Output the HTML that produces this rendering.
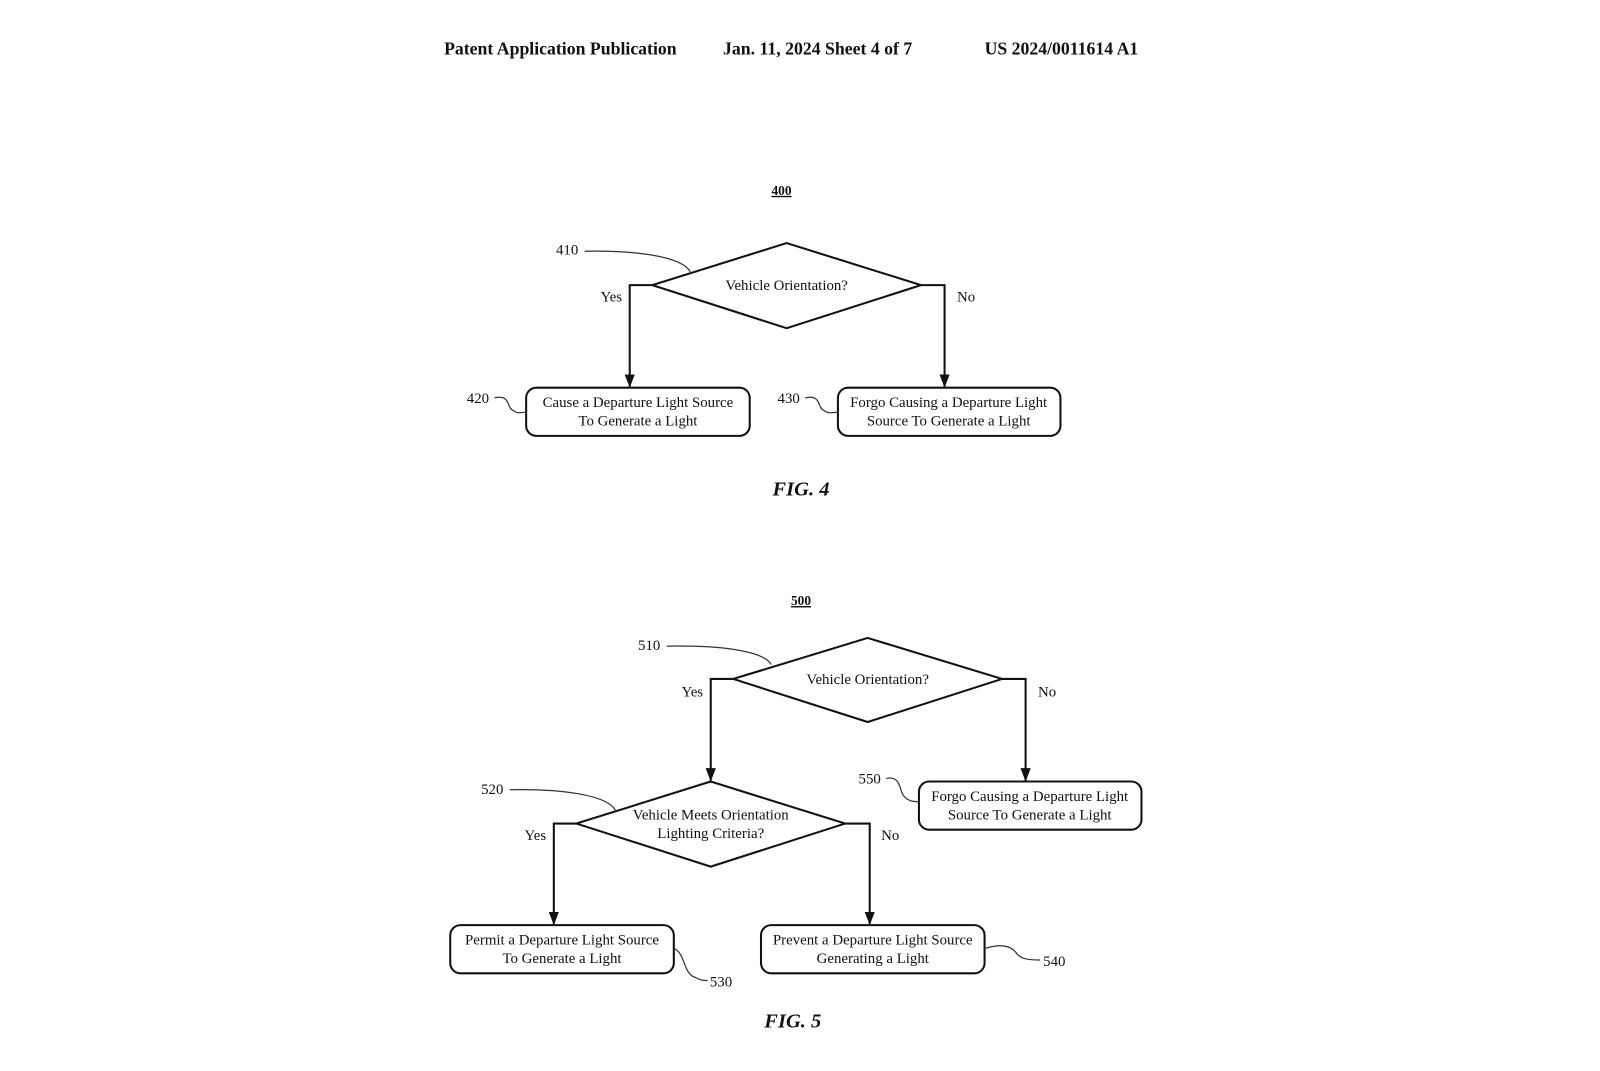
<!DOCTYPE html>
<html><head><style>
body{margin:0;background:#fff}
svg text{font-family:"Liberation Serif",serif;fill:#111}
</style></head><body>
<svg width="1600" height="1066" viewBox="0 0 1600 1066" xmlns="http://www.w3.org/2000/svg">
<defs><marker id="a" markerWidth="13" markerHeight="10" refX="12" refY="5" orient="auto" markerUnits="userSpaceOnUse"><path d="M0,0 L13,5 L0,10 Z" fill="#111"/></marker></defs>
<g transform="scale(1.0256)">
<g font-weight="bold" font-size="17.3">
<text x="433" y="53">Patent Application Publication</text>
<text x="705" y="53">Jan. 11, 2024  Sheet 4 of 7</text>
<text x="960" y="53">US 2024/0011614 A1</text>
</g>
<g stroke="#111" stroke-width="2" fill="none">
<polygon points="767,237 898,278 767,320 636,278"/>
<polyline points="636,278 614,278 614,377" marker-end="url(#a)"/>
<polyline points="898,278 921,278 921,377" marker-end="url(#a)"/>
<rect x="513" y="378" width="218" height="47" rx="10"/>
<rect x="817" y="378" width="217" height="47" rx="10"/>
<polygon points="846,622 977,662 846,704 715,662"/>
<polyline points="715,662 693,662 693,761" marker-end="url(#a)"/>
<polyline points="977,662 1000,662 1000,761" marker-end="url(#a)"/>
<rect x="896" y="762" width="217" height="47" rx="10"/>
<polygon points="693,762 824,803 693,845 562,803"/>
<polyline points="562,803 540,803 540,901" marker-end="url(#a)"/>
<polyline points="824,803 848,803 848,901" marker-end="url(#a)"/>
<rect x="439" y="902" width="218" height="47" rx="10"/>
<rect x="742" y="902" width="218" height="47" rx="10"/>
</g>
<g stroke="#333" stroke-width="1.2" fill="none">
<path d="M570,245 C620,244 665,250 673,265"/>
<path d="M482,388 C498,384 494,398 500,400 C505,404 508,402 513,402"/>
<path d="M785,388 C801,384 797,398 803,400 C808,404 811,402 817,402"/>
<path d="M650,630 C700,629 744,634 752,648"/>
<path d="M497,770 C547,769 592,775 600,790"/>
<path d="M864,759 C880,756 876,772 882,777 C887,782 890,781 896,782"/>
<path d="M657,925 C668,928 666,950 678,953 C683,956 686,956 690,956"/>
<path d="M960,925 C975,920 985,922 990,928 C995,936 1005,936 1014,936"/>
</g>
<g font-size="14.5" text-anchor="middle">
<text x="767" y="283">Vehicle Orientation?</text>
<text x="622" y="397">Cause a Departure Light Source</text>
<text x="622" y="415">To Generate a Light</text>
<text x="925" y="397">Forgo Causing a Departure Light</text>
<text x="925" y="415">Source To Generate a Light</text>
<text x="846" y="667">Vehicle Orientation?</text>
<text x="693" y="799">Vehicle Meets Orientation</text>
<text x="693" y="817">Lighting Criteria?</text>
<text x="1004" y="781">Forgo Causing a Departure Light</text>
<text x="1004" y="799">Source To Generate a Light</text>
<text x="548" y="921">Permit a Departure Light Source</text>
<text x="548" y="939">To Generate a Light</text>
<text x="851" y="921">Prevent a Departure Light Source</text>
<text x="851" y="939">Generating a Light</text>
<text x="596" y="294">Yes</text>
<text x="942" y="294">No</text>
<text x="675" y="679">Yes</text>
<text x="1021" y="679">No</text>
<text x="522" y="819">Yes</text>
<text x="868" y="819">No</text>
<text x="553" y="248">410</text>
<text x="466" y="393">420</text>
<text x="769" y="393">430</text>
<text x="633" y="634">510</text>
<text x="480" y="774">520</text>
<text x="848" y="764">550</text>
<text x="703" y="962">530</text>
<text x="1028" y="942">540</text>
</g>
<g font-size="13" font-weight="bold" text-anchor="middle" text-decoration="underline">
<text x="762" y="190">400</text>
<text x="781" y="590">500</text>
</g>
<g font-size="20" font-weight="bold" font-style="italic" text-anchor="middle">
<text x="781" y="483">FIG. 4</text>
<text x="773" y="1002">FIG. 5</text>
</g>
</g>
</svg>
</body></html>
